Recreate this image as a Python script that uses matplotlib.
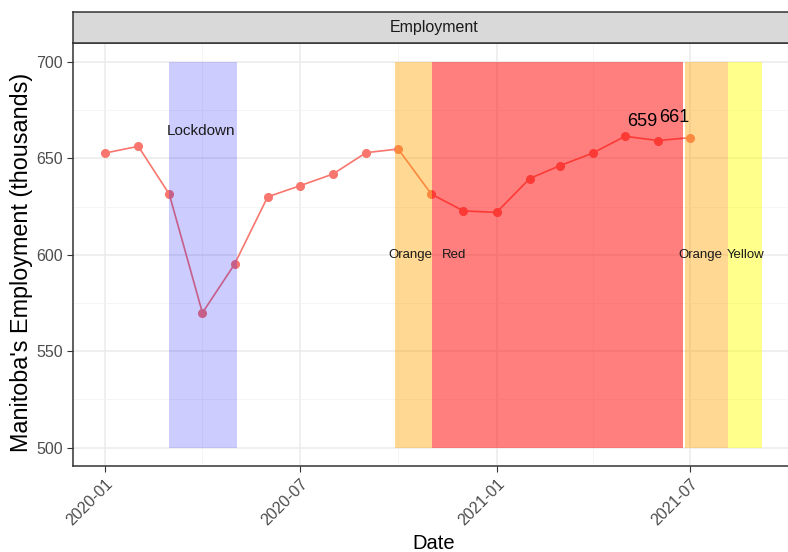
import matplotlib.pyplot as plt
import matplotlib.dates as mdates
import numpy as np
import pandas as pd

plt.rcParams['font.family'] = ['Liberation Sans', 'DejaVu Sans']

# monthly employment, thousands
months = pd.date_range('2020-01-01', '2021-07-01', freq='MS')
employment = [652.8, 656.3, 631.5, 569.9, 595.1, 630.1, 635.8, 641.9, 653.0,
              654.9, 631.5, 622.8, 622.0, 639.6, 646.2, 652.8, 661.5, 659.3, 660.8]

# restriction periods
phase_names = ['Lockdown', 'Orange', 'Red', 'Orange', 'Yellow']
phase_start = ['2020-03-01', '2020-09-28', '2020-11-02', '2021-06-26', '2021-08-05']
phase_end = ['2020-05-03', '2020-11-02', '2021-06-24', '2021-08-05', '2021-09-06']
phase_colors = ['blue', 'orange', 'red', 'orange', 'yellow']
phase_alpha = [0.2, 0.42, 0.5, 0.42, 0.45]
label_dates = ['2020-03-31', '2020-10-12', '2020-11-22', '2021-07-11', '2021-08-22']
label_y = [664, 600, 600, 600, 600]
label_size = [11, 9.5, 9.5, 9.5, 9.5]

# labelled points
lab_dates = ['2021-06-01', '2021-07-01']
lab_vals = [659, 661]

fig = plt.figure(figsize=(7.88, 5.52), dpi=100)
ax = fig.add_axes([73 / 788, (552 - 465.7) / 552, (795 - 73) / 788, (465.7 - 43) / 552])

ax.plot(months, employment, color='#F8766D', lw=1.2, marker='o', ms=5.5, zorder=2)

for s, e, c, a in zip(phase_start, phase_end, phase_colors, phase_alpha):
    ax.axvspan(pd.Timestamp(s), pd.Timestamp(e), ymin=(500 - 490.6) / (709.9 - 490.6),
               ymax=(700 - 490.6) / (709.9 - 490.6), color=c, alpha=a, lw=0, zorder=3)

for n, d, y, fs in zip(phase_names, label_dates, label_y, label_size):
    ax.text(pd.Timestamp(d), y, n, ha='center', va='center', fontsize=fs, color='#1a1a1a', zorder=4)

for d, v in zip(lab_dates, lab_vals):
    ax.text(pd.Timestamp(d) - pd.Timedelta(days=15), v + 10, str(v), ha='center', va='center',
            fontsize=13, color='black', zorder=4)

ax.set_xlim(pd.Timestamp('2019-12-02'), pd.Timestamp('2021-10-07'))
ax.set_ylim(490.6, 709.9)
ax.set_yticks([500, 550, 600, 650, 700])
ax.set_yticks([525, 575, 625, 675], minor=True)
ax.xaxis.set_major_locator(mdates.MonthLocator(bymonth=[1, 7]))
ax.xaxis.set_minor_locator(mdates.MonthLocator(bymonth=[4, 10]))
ax.xaxis.set_major_formatter(mdates.DateFormatter('%Y-%m'))
ax.grid(True, which='major', color='#EBEBEB', lw=1.1, zorder=0)
ax.grid(True, which='minor', color='#F4F4F4', lw=0.6, zorder=0)
ax.set_axisbelow(True)
ax.tick_params(which='major', length=4, color='#333333', labelsize=11.5, labelcolor='#4D4D4D')
ax.tick_params(which='minor', length=0)
for lbl in ax.get_xticklabels():
    lbl.set_rotation(45)
    lbl.set_ha('right')
    lbl.set_rotation_mode('anchor')
for sp in ax.spines.values():
    sp.set_color('#333333')
    sp.set_linewidth(1.1)

ax.set_xlabel('Date', fontsize=14.5, labelpad=4)
fig.text(22 / 788, 1 - 262 / 552, "Manitoba's Employment (thousands)", rotation=90,
         ha='center', va='center', fontsize=16.8)

# facet strip
strip = fig.add_axes([73 / 788, (552 - 43) / 552, (795 - 73) / 788, 31 / 552])
strip.set_facecolor('#D9D9D9')
strip.set_xticks([])
strip.set_yticks([])
for sp in strip.spines.values():
    sp.set_color('#333333')
    sp.set_linewidth(1.1)
strip.text((434 - 73) / (795 - 73), 0.5, 'Employment', ha='center', va='center',
           fontsize=11.5, color='#1a1a1a', transform=strip.transAxes)

fig.savefig('out.png', dpi=100)
